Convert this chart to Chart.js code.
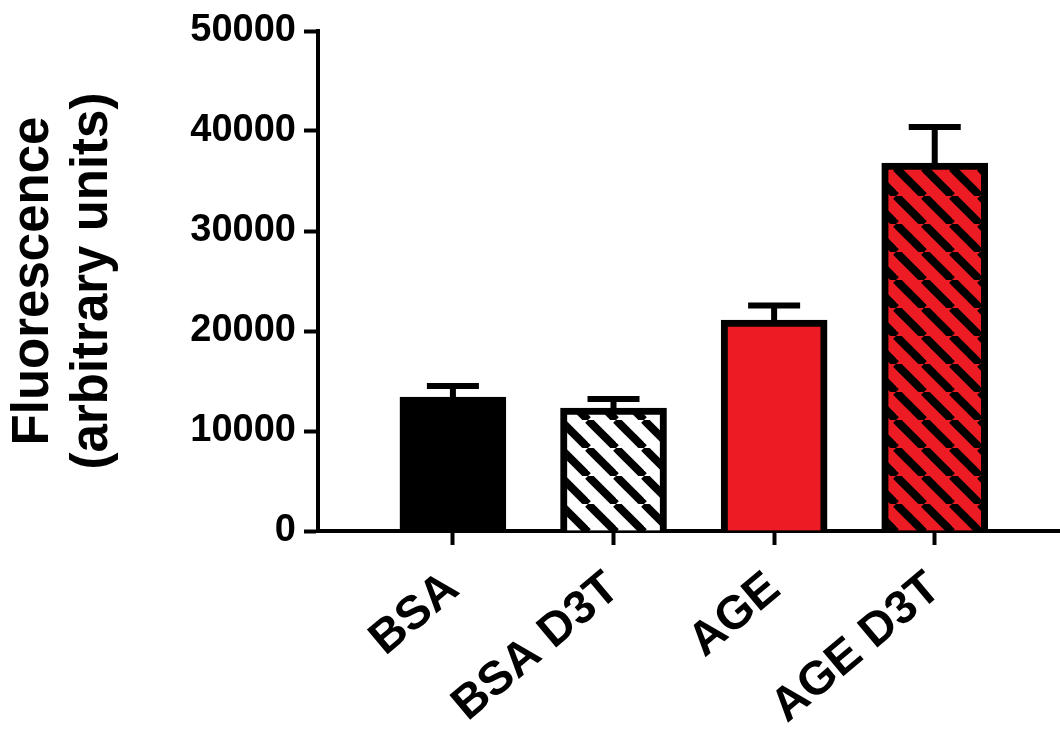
<!DOCTYPE html>
<html>
<head>
<meta charset="utf-8">
<script src="https://cdn.jsdelivr.net/npm/chart.js@4"></script>
<style>
  html, body { margin: 0; padding: 0; background: #fff; }
  #wrap { width: 1060px; height: 732px; }
</style>
</head>
<body>
<div id="wrap"><canvas id="fluoChart" width="1060" height="732"></canvas></div>
<script>
// Groups and measured fluorescence (mean and SEM)
const groups = ['BSA', 'BSA D3T', 'AGE', 'AGE D3T'];
const means = [13400, 12300, 21100, 36800];
const sems = [1100, 900, 1450, 3600];
const yTicks = [0, 10000, 20000, 30000, 40000, 50000];

const RED = '#ed1c24';
const FONT = "'Liberation Sans', Arial, Helvetica, sans-serif";

// Diagonal stripe fill for the D3T bars
function stripes(bg) {
    const s = 28;
    const c = document.createElement('canvas');
    c.width = s; c.height = s;
    const g = c.getContext('2d');
    g.fillStyle = bg;
    g.fillRect(0, 0, s, s);
    g.strokeStyle = '#000';
    g.lineWidth = 8;
    for (const x0 of [-s, 0, s]) {
        g.beginPath();
        g.moveTo(x0, 0);
        g.lineTo(x0 + s, s);
        g.stroke();
    }
    return g.createPattern(c, 'repeat');
}

const fills = ['#000', stripes('#fff'), RED, stripes(RED)];

// Upper SEM whiskers on top of each bar
const errorBars = {
    id: 'errorBars',
    afterDatasetsDraw(chart) {
        const ctx = chart.ctx;
        const y = chart.scales.y;
        const meta = chart.getDatasetMeta(0);
        ctx.save();
        ctx.strokeStyle = '#000';
        ctx.lineWidth = 6;
        ctx.lineCap = 'butt';
        meta.data.forEach((bar, i) => {
            const top = y.getPixelForValue(means[i] + sems[i]);
            ctx.beginPath();
            ctx.moveTo(bar.x, bar.y);
            ctx.lineTo(bar.x, top);
            ctx.moveTo(bar.x - 26, top);
            ctx.lineTo(bar.x + 26, top);
            ctx.stroke();
        });
        ctx.restore();
    }
};

new Chart(document.getElementById('fluoChart'), {
    type: 'bar',
    data: {
        datasets: [{
            data: means.map((m, i) => ({ x: i + 1, y: m })),
            backgroundColor: fills,
            borderColor: '#000',
            borderWidth: 7,
            borderSkipped: 'start',
            barThickness: 106
        }]
    },
    plugins: [errorBars],
    options: {
        responsive: false,
        animation: false,
        layout: { padding: { top: 31, right: 0, left: 0, bottom: 0 } },
        plugins: {
            legend: { display: false },
            tooltip: { enabled: false }
        },
        scales: {
            x: {
                type: 'linear',
                offset: false,
                min: 0.16,
                max: 4.78,
                afterBuildTicks(scale) {
                    scale.ticks = groups.map((g, i) => ({ value: i + 1 }));
                },
                afterFit(scale) { scale.height = 201; },
                border: { display: true, color: '#000', width: 4 },
                grid: {
                    offset: false,
                    drawOnChartArea: false,
                    drawTicks: true,
                    tickLength: 14,
                    tickWidth: 4,
                    tickColor: '#000'
                },
                ticks: {
                    autoSkip: false,
                    minRotation: 40,
                    maxRotation: 40,
                    padding: 16,
                    color: '#000',
                    font: { family: FONT, size: 47, weight: 'bold' },
                    callback: (v) => groups[v - 1]
                }
            },
            y: {
                min: 0,
                max: 50000,
                afterBuildTicks(scale) {
                    scale.ticks = yTicks.map(v => ({ value: v }));
                },
                afterFit(scale) { scale.width = 318; },
                border: { display: true, color: '#000', width: 4 },
                grid: {
                    drawOnChartArea: false,
                    drawTicks: true,
                    tickLength: 14,
                    tickWidth: 4,
                    tickColor: '#000'
                },
                ticks: {
                    padding: 8,
                    color: '#000',
                    font: { family: FONT, size: 38, weight: 'bold' },
                    callback: (v) => String(v)
                },
                title: {
                    display: true,
                    text: ['Fluorescence', '(arbitrary units)'],
                    color: '#000',
                    font: { family: FONT, size: 51, weight: 'bold', lineHeight: 1.15 },
                    padding: { top: 5, bottom: 0 }
                }
            }
        }
    }
});
</script>
</body>
</html>
